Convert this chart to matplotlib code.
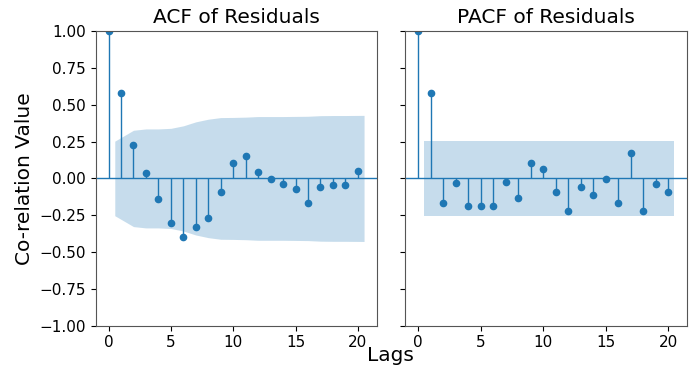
import numpy as np
import matplotlib
matplotlib.use("Agg")
import matplotlib.pyplot as plt

lags = list(range(21))
acf_vals = [1.0, 0.577, 0.225, 0.034, -0.143, -0.30, -0.395, -0.33, -0.27, -0.093,
            0.107, 0.152, 0.043, -0.005, -0.039, -0.075, -0.166, -0.057, -0.048, -0.048, 0.052]
pacf_vals = [1.0, 0.577, -0.166, -0.032, -0.184, -0.184, -0.184, -0.023, -0.136, 0.107,
             0.066, -0.093, -0.223, -0.061, -0.114, -0.005, -0.17, 0.173, -0.223, -0.039, -0.089]
# confidence band half-widths for lags 1..20
acf_band = [0.253, 0.327, 0.336, 0.336, 0.340, 0.357, 0.384, 0.402, 0.413, 0.414,
            0.416, 0.420, 0.420, 0.420, 0.421, 0.422, 0.426, 0.427, 0.427, 0.428]
pacf_band = [0.253] * 20

fig = plt.figure(figsize=(6.94, 3.66), dpi=100)
ax1 = fig.add_axes([0.138, 0.110, 0.405, 0.805])
ax2 = fig.add_axes([0.584, 0.110, 0.406, 0.805], sharey=ax1)

def draw(ax, vals, band, title):
    x = np.array(lags, dtype=float)
    ax.vlines(x, 0, vals, color="C0", linewidth=1.0)
    ax.plot(x, vals, "o", color="C0", markersize=4.5)
    ax.axhline(0, color="C0", linewidth=1.0)
    bx = x[1:].copy()
    bx[0] -= 0.5
    bx[-1] += 0.5
    b = np.array(band)
    ax.fill_between(bx, -b, b, color="C0", alpha=0.25, linewidth=0)
    ax.set_title(title, fontsize=14.5)
    ax.set_ylim(-1, 1)
    ax.set_xticks([0, 5, 10, 15, 20])
    ax.tick_params(labelsize=11)
    for s in ax.spines.values():
        s.set_color("#555555")

draw(ax1, acf_vals, acf_band, "ACF of Residuals")
draw(ax2, pacf_vals, pacf_band, "PACF of Residuals")
ax1.set_yticks(np.arange(-1, 1.01, 0.25))
ax2.tick_params(labelleft=False)
ax1.set_ylabel("Co-relation Value", fontsize=14.5)
fig.text(0.563, 0.028, "Lags", ha="center", va="center", fontsize=14.5)

fig.savefig("out.png", dpi=100)
